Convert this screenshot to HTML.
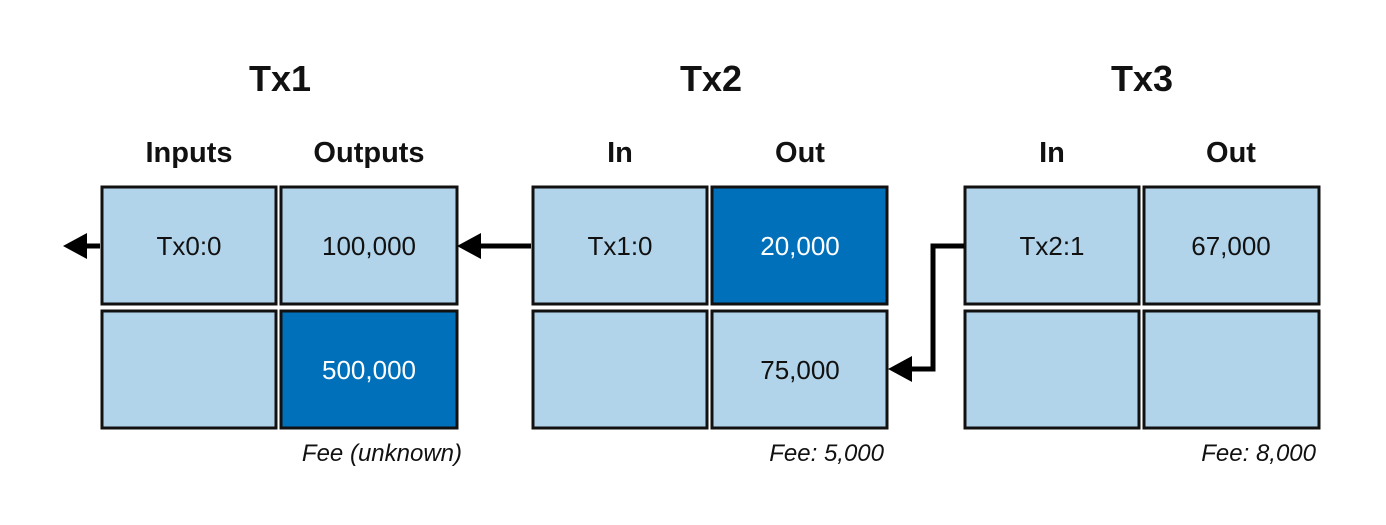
<!DOCTYPE html>
<html><head><style>
body{margin:0;background:#fff;}
svg text{font-family:"Liberation Sans",sans-serif;}
</style></head><body>
<svg width="1386" height="520" viewBox="0 0 1386 520" xmlns="http://www.w3.org/2000/svg">
<g stroke="#111" stroke-width="3">
<rect x="102" y="187" width="174" height="117" fill="#b2d4ea"/>
<rect x="281" y="187" width="176" height="117" fill="#b2d4ea"/>
<rect x="102" y="311" width="174" height="117" fill="#b2d4ea"/>
<rect x="281" y="311" width="176" height="117" fill="#0070bb"/>
<rect x="533" y="187" width="174" height="117" fill="#b2d4ea"/>
<rect x="712" y="187" width="175" height="117" fill="#0070bb"/>
<rect x="533" y="311" width="174" height="117" fill="#b2d4ea"/>
<rect x="712" y="311" width="175" height="117" fill="#b2d4ea"/>
<rect x="965" y="187" width="174" height="117" fill="#b2d4ea"/>
<rect x="1144" y="187" width="175" height="117" fill="#b2d4ea"/>
<rect x="965" y="311" width="174" height="117" fill="#b2d4ea"/>
<rect x="1144" y="311" width="175" height="117" fill="#b2d4ea"/>
</g>
<g stroke="#000" stroke-width="5" fill="none">
<line x1="100" y1="246" x2="82" y2="246"/>
<line x1="531" y1="246" x2="476" y2="246"/>
<polyline points="964,246 933,246 933,369 906,369"/>
</g>
<g fill="#000">
<polygon points="63,246 87,233 87,259"/>
<polygon points="457,246 481,233 481,259"/>
<polygon points="888,369 912,356 912,382"/>
</g>
<g font-weight="bold" text-anchor="middle" fill="#111">
<text x="280" y="91" font-size="36">Tx1</text>
<text x="711" y="91" font-size="36">Tx2</text>
<text x="1142" y="91" font-size="36">Tx3</text>
<text x="189" y="162" font-size="29">Inputs</text>
<text x="369" y="162" font-size="29">Outputs</text>
<text x="620" y="162" font-size="29">In</text>
<text x="800" y="162" font-size="29">Out</text>
<text x="1052" y="162" font-size="29">In</text>
<text x="1231" y="162" font-size="29">Out</text>
</g>
<g text-anchor="middle" font-size="26" fill="#111">
<text x="189" y="255">Tx0:0</text>
<text x="369" y="255">100,000</text>
<text x="369" y="379" fill="#fff">500,000</text>
<text x="620" y="255">Tx1:0</text>
<text x="800" y="255" fill="#fff">20,000</text>
<text x="800" y="379">75,000</text>
<text x="1052" y="255">Tx2:1</text>
<text x="1231" y="255">67,000</text>
</g>
<g text-anchor="end" font-size="24" font-style="italic" fill="#111">
<text x="462" y="461">Fee (unknown)</text>
<text x="884" y="461">Fee: 5,000</text>
<text x="1316" y="461">Fee: 8,000</text>
</g>
</svg>
</body></html>
